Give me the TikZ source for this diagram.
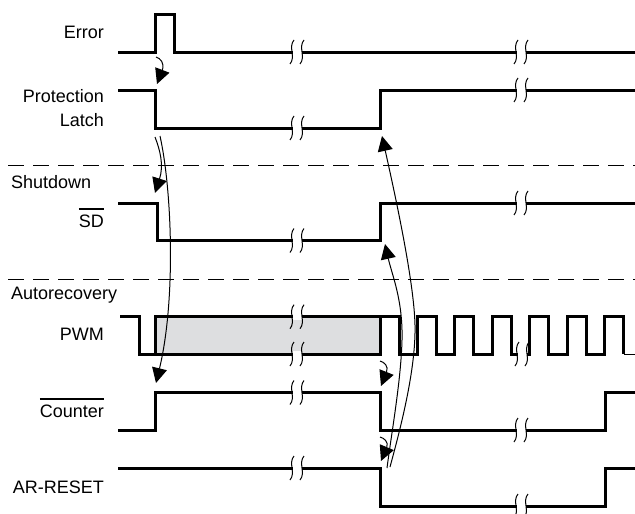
\documentclass[tikz,border=0pt]{standalone}
\usepackage{fontspec}
\setmainfont{Liberation Sans}
\usetikzlibrary{arrows.meta}
\newcommand\ovl[1]{\vbox{\hrule height 1.8pt\kern 4.2pt\hbox{#1}}}
\newcommand\brkk[2]{%
  \fill[white] (#1-4.5,#2-2.8) rectangle (#1+4.5,#2+2.8);
  \foreach \xx in {#1-5,#1+5}{%
    \draw[thn] (\xx+2,#2-12) .. controls (\xx-4,#2-5) and (\xx+4,#2+5) .. (\xx-2,#2+12);}%
}
\begin{document}
\begin{tikzpicture}[x=1pt,y=-1pt,
  sig/.style={line width=3pt, line join=miter},
  thn/.style={line width=1pt},
  arr/.style={thn,-{Triangle[length=15pt,width=15pt]}},
  lbl/.style={font=\fontsize{18}{24}\selectfont, inner sep=0pt},
  dsh/.style={line width=1pt, dash pattern=on 16pt off 9pt}]
\useasboundingbox (0,0) rectangle (635,514);

% labels
\node[lbl, anchor=base east] (err) at (104,38) {Error};
\node[lbl, anchor=north east, align=right] (pl) at (104,89) {Protection\\Latch};
\node[lbl, anchor=base west] (sh) at (11,188) {Shutdown};
\node[lbl, anchor=base east] (sd) at (104,227) {\ovl{SD}};
\node[lbl, anchor=base west] (ar) at (11,299) {Autorecovery};
\node[lbl, anchor=base east] (pwm) at (104,340) {PWM};
\node[lbl, anchor=base east] (cnt) at (104,417) {\ovl{Counter}};
\node[lbl, anchor=base east] (rst) at (104,493) {AR-RESET};

% dashed separators
\draw[dsh] (8,165) -- (635,165);
\draw[dsh] (8,279) -- (635,279);

% signals
\draw[sig] (118,52) -- (155,52) -- (155,14) -- (174,14) -- (174,52) -- (636,52);
\draw[sig] (118,90) -- (155,90) -- (155,128) -- (380,128) -- (380,90) -- (636,90);
\draw[sig] (118,203) -- (157,203) -- (157,240.5) -- (380,240.5) -- (380,203) -- (636,203);
\fill[fill={rgb,255:red,221;green,222;blue,224}] (155,316.7) rectangle (380,354);
\draw[sig] (120,316.7) -- (139,316.7) -- (139,354) -- (380,354) -- (380,316.7);
\draw[sig] (155,354) -- (155,316.7) -- (399,316.7) -- (399,354)
  \foreach \i in {0,...,5}{ -- ({417+37.5*\i},354) -- ({417+37.5*\i},316.7) -- ({436+37.5*\i},316.7) -- ({436+37.5*\i},354)};
\draw[thn] (624,354) -- (636,354);
\draw[sig] (118,430) -- (155,430) -- (155,392.5) -- (380,392.5) -- (380,430) -- (605,430) -- (605,392.5) -- (636,392.5);
\draw[sig] (118,468) -- (380,468) -- (380,506) -- (605,506) -- (605,468) -- (636,468);

% breaks
\brkk{297}{52} \brkk{521}{52}
\brkk{297}{128} \brkk{521}{90}
\brkk{297}{240.5} \brkk{521}{203}
\brkk{297}{316.7} \brkk{297}{354} \brkk{522}{354}
\brkk{297}{392.5} \brkk{521}{430}
\brkk{297}{468} \brkk{521}{506}

% causal arrows
\coordinate (e1) at (156,57);   \coordinate (e1t) at (157,84);
\coordinate (p1) at (155,137);  \coordinate (p1t) at (155,193);
\coordinate (p2) at (160,136);  \coordinate (p2t) at (156,383);
\coordinate (c1) at (380,361);  \coordinate (c1t) at (381,386);
\coordinate (r1) at (380,437);  \coordinate (r1t) at (381,461);
\coordinate (r2) at (387,468);  \coordinate (r2t) at (385,244);
\coordinate (r3) at (390,467);  \coordinate (r3t) at (382,136);
\draw[arr] (e1) .. controls (160,58) and (165,63) .. (e1t);
\draw[arr] (p1) .. controls (160,150) and (164,165) .. (p1t);
\draw[arr] (p2) .. controls (172,190) and (176,300) .. (p2t);
\draw[arr] (c1) .. controls (384,362) and (389,366) .. (c1t);
\draw[arr] (r1) .. controls (384,438) and (389,442) .. (r1t);
\draw[arr] (r2) .. controls (392,430) and (401,380) .. (402,340)
  .. controls (403,300) and (392,275) .. (r2t);
\draw[arr] (r3) .. controls (400,430) and (416,370) .. (415,325)
  .. controls (414,280) and (394,190) .. (r3t);
\end{tikzpicture}
\end{document}
